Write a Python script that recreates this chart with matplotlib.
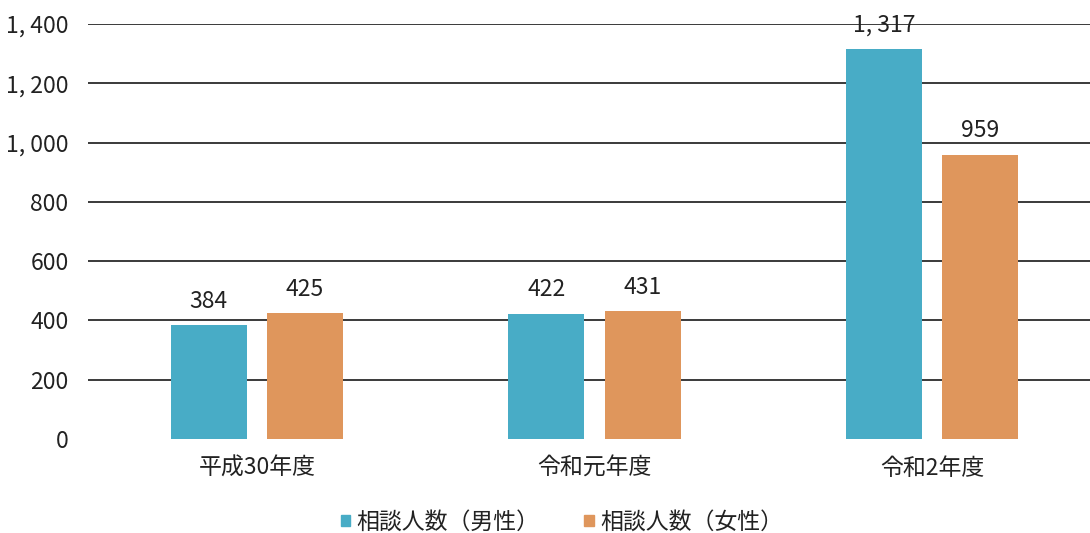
import matplotlib
matplotlib.use("Agg")
import matplotlib.pyplot as plt
from matplotlib.ticker import FuncFormatter
from matplotlib.patches import Patch
import numpy as np

categories = ["平成30年度", "令和元年度", "令和2年度"]
male = [384, 422, 1317]
female = [425, 431, 959]
series_names = ["相談人数（男性）", "相談人数（女性）"]
yticks = [0, 200, 400, 600, 800, 1000, 1200, 1400]

cjk_font = ["Noto Sans CJK JP", "DejaVu Sans"]
plt.rcParams["font.family"] = cjk_font

def fmt(v):
    v = int(round(v))
    if v >= 1000:
        return f"{v // 1000}, {v % 1000:03d}"
    return str(v)

W, H = 1090, 533
fig = plt.figure(figsize=(W / 100, H / 100), dpi=100)
left = 88 / W
bottom = 1 - 439 / H
top = 1 - 24 / H
ax = fig.add_axes([left, bottom, 1 - left, top - bottom])

c_m = "#48acc6"
c_f = "#df965c"
x = np.arange(len(categories))
bw = 0.225
off = 0.143
bm = ax.bar(x - off, male, bw, color=c_m, zorder=3)
bf = ax.bar(x + off, female, bw, color=c_f, zorder=3)

for bars, vals in ((bm, male), (bf, female)):
    for b, v in zip(bars, vals):
        ax.text(b.get_x() + b.get_width() / 2, v + 42, fmt(v), ha="center", va="bottom",
                fontsize=16.5, color="#222222", zorder=4)

ax.set_ylim(0, 1400)
ax.set_xlim(-0.5, 2.5 - 11 / 338)
ax.set_yticks(yticks)
ax.yaxis.set_major_formatter(FuncFormatter(lambda v, p: fmt(v)))
ax.tick_params(axis="y", length=0, pad=14, labelsize=16.5, labelcolor="#222222")
ax.set_xticks(x)
ax.set_xticklabels(categories, fontsize=16.5, color="#222222")
ax.tick_params(axis="x", length=0, pad=13)
for yv in yticks[1:]:
    ax.axhline(yv, color="#3a3a3a", lw=1.4, zorder=1)
for s in ax.spines.values():
    s.set_visible(False)
ax.set_facecolor("none")

handles = [Patch(color=c_m), Patch(color=c_f)]
fig.legend(handles, series_names, loc="center", bbox_to_anchor=(562 / W, 1 - 522 / H),
           ncol=2, frameon=False, fontsize=16.5, handlelength=0.4, handleheight=0.4,
           handletextpad=0.3, columnspacing=1.95, labelcolor="#222222")

fig.savefig("out.png", dpi=100)
